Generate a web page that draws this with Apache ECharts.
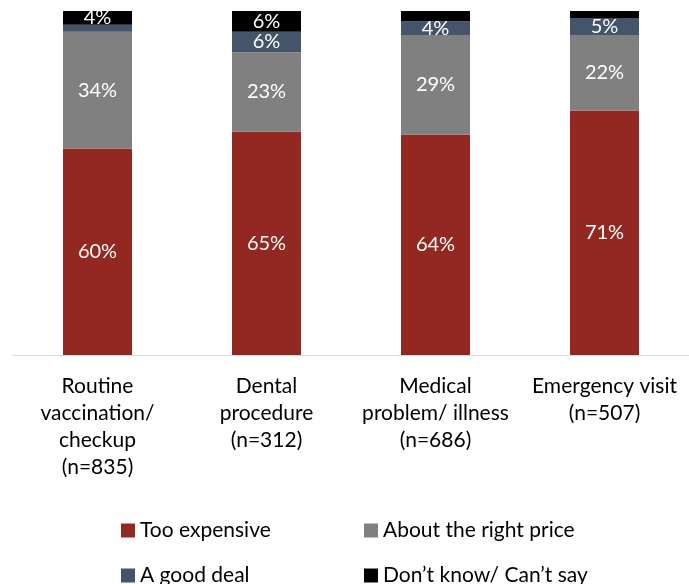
<!DOCTYPE html>
<html>
<head>
<meta charset="utf-8">
<script src="https://cdn.jsdelivr.net/npm/echarts@6/dist/echarts.min.js"></script>
<style>
  html, body { margin: 0; padding: 0; background: #fff; }
  #chart { width: 689px; height: 584px; }
</style>
</head>
<body>
<div id="chart"></div>
<script>
var categories = [
    'Routine\nvaccination/\ncheckup\n(n=835)',
    'Dental\nprocedure\n(n=312)',
    'Medical\nproblem/ illness\n(n=686)',
    'Emergency visit\n(n=507)'
];
var seriesNames = ['Too expensive', 'About the right price', 'A good deal', 'Don\u2019t know/ Can\u2019t say'];
var tooExpensive = [60, 65, 64, 71];
var rightPrice = [34, 23, 29, 22];
var goodDeal = [2, 6, 4, 5];
var dontKnow = [4, 6, 3, 2];

var colors = ['#922821', '#808080', '#44546a', '#000000'];
var font = 'Lato, "Open Sans", sans-serif';

var chart = echarts.init(document.getElementById('chart'));

function makeSeries(name, data, color) {
    return {
        name: name,
        type: 'bar',
        stack: 'total',
        barWidth: 69,
        data: data,
        itemStyle: { color: color },
        label: {
            show: true,
            position: 'inside',
            color: '#fff',
            fontSize: 20,
            fontFamily: font,
            // small segments are left unlabeled
            formatter: function (p) { return p.value >= 4 ? p.value + '%' : ''; }
        }
    };
}

function legendAt(name, left, top) {
    return {
        data: [name],
        left: left,
        top: top,
        itemWidth: 14,
        itemHeight: 14,
        itemGap: 6,
        icon: 'rect',
        textStyle: { fontSize: 21, fontFamily: font, color: '#000' }
    };
}

chart.setOption({
    animation: false,
    color: colors,
    grid: { left: 13, width: 680, top: 11, bottom: 229 },
    legend: [
        legendAt(seriesNames[0], 116, 515),
        legendAt(seriesNames[1], 359, 515),
        legendAt(seriesNames[2], 116, 560),
        legendAt(seriesNames[3], 359, 560)
    ],
    xAxis: {
        type: 'category',
        data: categories,
        axisLine: { lineStyle: { color: '#d9d9d9', width: 1 } },
        axisTick: { show: false },
        axisLabel: {
            margin: 18,
            color: '#000',
            fontSize: 21,
            lineHeight: 27,
            fontFamily: font,
            interval: 0
        }
    },
    yAxis: {
        type: 'value',
        min: 0,
        max: 100,
        show: false
    },
    series: [
        makeSeries(seriesNames[0], tooExpensive, colors[0]),
        makeSeries(seriesNames[1], rightPrice, colors[1]),
        makeSeries(seriesNames[2], goodDeal, colors[2]),
        makeSeries(seriesNames[3], dontKnow, colors[3])
    ]
});
</script>
</body>
</html>
